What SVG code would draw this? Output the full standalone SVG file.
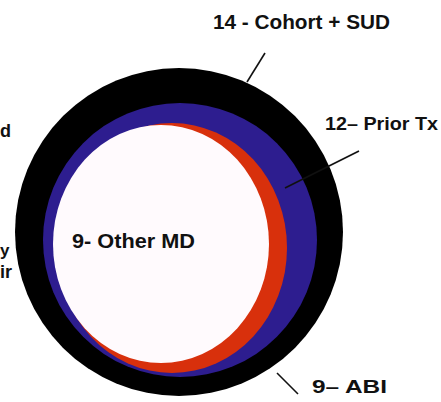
<svg xmlns="http://www.w3.org/2000/svg" width="441" height="402" viewBox="0 0 441 402">
<style>
.lbl{font-family:"Liberation Sans",Arial,sans-serif;font-weight:bold;fill:#111;}
.ln{stroke:#111;stroke-width:1.6;fill:none;}
</style>
<rect width="441" height="402" fill="#ffffff"/>
<g id="ring-cohort"><circle cx="179" cy="232" r="164" fill="#000000"/></g>
<g id="ring-prior"><ellipse cx="180" cy="240" rx="137" ry="137" fill="#2d1d8f"/></g>
<g id="ring-abi"><ellipse cx="172" cy="248" rx="115" ry="125" fill="#d8300c"/></g>
<g id="core-other"><ellipse cx="161" cy="244" rx="108" ry="119" fill="#fffafd"/></g>
<g id="connectors">
<line class="ln" x1="265" y1="53" x2="247" y2="82"/>
<line class="ln" x1="359" y1="151" x2="285" y2="188"/>
<line class="ln" x1="277" y1="373" x2="298" y2="394"/>
</g>
<g id="labels">
<text class="lbl" x="213" y="29" font-size="19.5" textLength="177" lengthAdjust="spacingAndGlyphs">14 - Cohort + SUD</text>
<text class="lbl" x="325" y="130" font-size="18" textLength="113" lengthAdjust="spacingAndGlyphs">12– Prior Tx</text>
<text class="lbl" x="312" y="393" font-size="18" textLength="75" lengthAdjust="spacingAndGlyphs">9– ABI</text>
<text class="lbl" x="72" y="248" font-size="20" textLength="123" lengthAdjust="spacingAndGlyphs">9- Other MD</text>
<text class="lbl" x="0" y="137" font-size="18">d</text>
<text class="lbl" x="0" y="256" font-size="17">y</text>
<text class="lbl" x="0" y="278" font-size="18">ir</text>
</g>
</svg>
